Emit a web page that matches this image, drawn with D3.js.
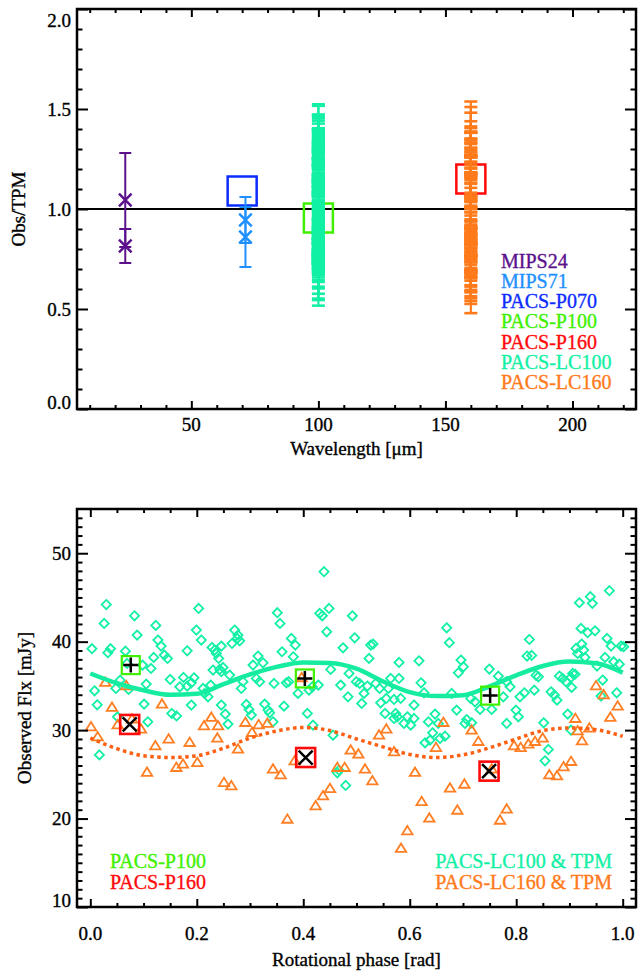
<!DOCTYPE html>
<html>
<head>
<meta charset="utf-8">
<script src="https://cdn.jsdelivr.net/npm/d3@7"></script>
<style>
  html, body { margin: 0; padding: 0; background: #fff; }
  svg { display: block; }
  text { font-family: "Liberation Serif", "Times New Roman", serif; stroke-width: 0.35px; paint-order: stroke; }
</style>
</head>
<body>
<svg id="chart" width="638" height="971"></svg>
<script>
// ---------------- Upper panel: Obs/TPM ratio against wavelength ----------------
const bandNames  = ["MIPS24", "MIPS71", "PACS-P070", "PACS-P100", "PACS-P160", "PACS-LC100", "PACS-LC160"];
const bandColors = ["#5b108c", "#1e90ff", "#0b2cff", "#40f000", "#ff0a0a", "#12f0a4", "#ff7a1a"];

const mips24Wave = 24,   mips24Ratio = [1.045, 0.815], mips24Err = [0.235, 0.085];
const mips71Wave = 71.3, mips71Ratio = [0.945, 0.86],  mips71Err = [0.115, 0.15];
const pacsBoxWave  = [70, 100, 160];
const pacsBoxRatio = [1.09, 0.955, 1.15];
const lc100Wave = 100, lc160Wave = 160;
const lc100RelErr = 0.19, lc160RelErr = 0.21;

const waveMajor  = [50, 100, 150, 200];
const waveMinor  = [10, 20, 30, 40, 60, 70, 80, 90, 110, 120, 130, 140, 160, 170, 180, 190, 210, 220];
const ratioMajor = [0.0, 0.5, 1.0, 1.5, 2.0];
const ratioMinor = [0.1, 0.2, 0.3, 0.4, 0.6, 0.7, 0.8, 0.9, 1.1, 1.2, 1.3, 1.4, 1.6, 1.7, 1.8, 1.9];

// ---------------- Lower panel: observed flux against rotational phase ----------------
const modelPhase = [0, 0.05, 0.10, 0.15, 0.20, 0.25, 0.30, 0.35, 0.40, 0.45, 0.50,
                    0.55, 0.60, 0.65, 0.70, 0.75, 0.80, 0.85, 0.90, 0.95, 1.00];
const tpm100 = [36.4, 35.3, 34.5, 34.0, 34.1, 35.2, 36.3, 37.15, 37.65, 37.6, 36.95,
                35.5, 34.3, 33.85, 33.95, 34.95, 36.2, 37.25, 37.75, 37.55, 36.5];
const tpm160 = [29.1, 27.9, 27.1, 26.9, 27.1, 27.95, 29.1, 29.9, 30.3, 29.95, 29.0,
                28.1, 27.25, 26.9, 27.2, 28.0, 29.0, 29.95, 30.25, 30.05, 29.3];

const lc100Phase = [
  0.030, 0.083, 0.026, 0.123, 0.088, 0.127, 0.133, 0.003, 0.038, 0.033, 0.066, 0.182, 0.119, 0.139, 0.145, 0.069,
  0.114, 0.098, 0.056, 0.150, 0.175, 0.168, 0.182, 0.008, 0.048, 0.072, 0.105, 0.013, 0.101, 0.153, 0.162, 0.051,
  0.108, 0.017,
  0.2035, 0.3513, 0.3563, 0.1992, 0.2085, 0.2712, 0.2774, 0.2762, 0.2806, 0.2662, 0.2461, 0.2286, 0.2336, 0.2367,
  0.2411, 0.3776, 0.3851, 0.3601, 0.3150, 0.3244, 0.3056, 0.3814, 0.2305, 0.2430, 0.2493, 0.2461, 0.2618, 0.1948,
  0.1898, 0.2117, 0.2261, 0.2868, 0.3119, 0.3181, 0.3451, 0.3682, 0.3726, 0.2837, 0.2148, 0.2211, 0.1898, 0.2461,
  0.2536, 0.2931, 0.2981, 0.3025, 0.3275, 0.3338, 0.3369, 0.3638, 0.2586, 0.3432, 0.3901,
  0.439, 0.4308, 0.4358, 0.4484, 0.4922, 0.444, 0.4966, 0.4747, 0.5266, 0.531, 0.5235, 0.5799, 0.4515, 0.486,
  0.4703, 0.4997, 0.506, 0.5204, 0.5141, 0.484, 0.5097, 0.536, 0.5435, 0.5598, 0.5642, 0.5799, 0.5705, 0.5454,
  0.556, 0.583, 0.5536, 0.5736, 0.5767, 0.5705, 0.5955, 0.5892, 0.6018, 0.608, 0.4077, 0.4183, 0.4559, 0.4283,
  0.417, 0.4108, 0.464, 0.4671, 0.4797,
  0.6694, 0.6744, 0.6174, 0.6963, 0.7007, 0.6913, 0.7495, 0.7664, 0.6212, 0.6268, 0.608, 0.6788, 0.6882, 0.7145,
  0.7226, 0.732, 0.7539, 0.7821, 0.7884, 0.7758, 0.8071, 0.7996, 0.804, 0.7821, 0.6475, 0.635, 0.6537, 0.643,
  0.6287, 0.6381, 0.6569, 0.6663, 0.707, 0.7038, 0.7163,
  0.975, 0.9392, 0.943, 0.9186, 0.9217, 0.9342, 0.948, 0.9706, 0.9781, 0.9969, 1.0019, 0.8247, 0.9123, 0.923,
  0.9267, 0.9154, 0.9292, 0.8203, 0.829, 0.9668, 0.9831, 0.9937, 0.9518, 0.8372, 0.8416, 0.881, 0.8873, 0.8935,
  0.906, 0.9029, 0.9104, 0.9042, 0.834, 0.8153, 0.8654, 0.8716, 0.8766, 0.9624, 0.9593, 0.9887, 0.8967, 0.8516,
  0.9029, 0.8604, 0.8541
];
const lc100Flux = [
  44.2, 42.93, 42.06, 41.84, 40.74, 40.18, 39.5, 39.2, 39.2, 38.75, 38.93, 38.97, 38.22, 38.48, 38.1, 37.54,
  36.97, 37.35, 35.65, 35.73, 35.96, 34.9, 34.97, 34.45, 34.71, 34.6, 35.2, 32.86, 32.94, 31.88, 31.6, 31.5,
  30.94, 27.2,
  43.76, 43.27, 42.06, 41.31, 40.18, 41.31, 40.74, 40.37, 40.1, 39.8, 39.5, 39.35, 39.05, 38.67,
  38.1, 40.37, 39.61, 38.86, 38.37, 37.61, 37.35, 38.29, 36.79, 36.86, 37.09, 36.6, 36.22, 35.92,
  35.35, 34.71, 35.09, 35.47, 35.84, 35.47, 35.28, 35.35, 35.47, 34.71, 34.15, 33.77, 32.83, 32.83,
  31.81, 32.9, 32.34, 31.7, 32.94, 32.26, 31.96, 32.71, 30.68, 30.94, 34.15,
  47.91, 43.2, 42.93, 43.76, 42.93, 41.12, 40.44, 39.31, 39.61, 39.73, 38.11, 37.65, 36.86, 36.41,
  35.09, 35.47, 35.28, 34.98, 34.15, 33.77, 33.01, 35.28, 34.71, 34.71, 35.84, 35.84, 33.47, 33.09,
  33.58, 33.58, 31.88, 31.88, 31.51, 31.32, 31.51, 30.75, 30.56, 31.32, 31.88, 30.56, 29.43, 35.09,
  34.9, 34.52, 25.17, 25.47, 23.74,
  41.57, 39.88, 37.84, 37.92, 37.16, 36.48, 36.9, 36.1, 35.35, 34.22, 32.83, 34.15, 32.26, 33.58,
  33.2, 32.34, 32.34, 35.47, 34.9, 33.77, 33.77, 32.26, 31.51, 30.75, 31.81, 30.94, 30.75, 29.7,
  28.57, 28.87, 29.06, 29.32, 31.2, 30.75, 30.83,
  45.76, 45.08, 44.33, 44.4, 41.5, 41.01, 41.23, 40.37, 39.5, 39.5, 39.43, 40.25, 39.24, 39.73,
  39.05, 38.67, 38.22, 38.37, 38.44, 38.22, 37.73, 37.46, 37.24, 36.2, 36.03, 36.11, 35.84, 35.47,
  36.41, 35.96, 36.33, 34.83, 34.52, 34.22, 34.33, 33.96, 33.39, 35.66, 33.85, 34.22, 31.81, 30.83,
  30.0, 27.81, 26.53
];

const lc160Phase = [
  0.0282, 0.0677, 0.0407, 0.1347, 0.0013, 0.0138, 0.0514, 0.0783, 0.0952, 0.1222, 0.1472, 0.1866, 0.1616, 0.1741,
  0.1065,
  0.2273, 0.2136, 0.2399, 0.2386, 0.201, 0.2774, 0.2912, 0.3037, 0.3163, 0.3325, 0.3432, 0.3576, 0.2511, 0.2649,
  0.3701, 0.3839,
  0.397, 0.556, 0.5423, 0.4891, 0.5035, 0.5705, 0.516, 0.464, 0.4778, 0.5298, 0.4502, 0.4371, 0.4233, 0.5955,
  0.5836,
  0.6631, 0.7163, 0.7289, 0.6493, 0.6099, 0.6756, 0.7026, 0.6224, 0.6368, 0.6894, 0.7821, 0.7696, 0.7959, 0.8084,
  0.754,
  0.9499, 0.9643, 0.9906, 0.9768, 0.9111, 0.9154, 0.9374, 0.9236, 0.8497, 0.8353, 0.8228, 0.903, 0.889, 0.8622,
  0.8766
];
const lc160Flux = [
  35.47, 35.09, 32.64, 33.01, 30.45, 29.32, 30.68, 31.32, 30.19, 28.3, 29.06, 28.68, 25.85, 26.23,
  25.29,
  31.51, 30.56, 30.56, 29.17, 26.41, 27.92, 30.94, 29.81, 30.68, 30.83, 25.66, 25.02, 24.15, 23.78,
  20.0, 26.6,
  36.0, 30.19, 29.51, 27.81, 27.36, 27.62, 25.66, 25.85, 25.85, 24.34, 23.47, 22.65, 21.51, 18.69,
  16.7,
  30.94, 30.07, 28.79, 28.11, 25.29, 23.51, 23.96, 22.0, 20.12, 21.02, 21.14, 19.89, 28.3, 28.11,
  25.66,
  35.09, 34.07, 32.79, 31.51, 31.39, 30.0, 30.3, 28.87, 29.17, 28.79, 28.49, 26.53, 25.92, 25.02,
  24.91
];

const p100Phase = [0.076, 0.403, 0.751], p100Flux = [37.35, 35.84, 33.9];
const p160Phase = [0.074, 0.4045, 0.749], p160Flux = [30.64, 26.9, 25.36];

const phaseMajor = [0.0, 0.2, 0.4, 0.6, 0.8, 1.0];
const phaseMinor = [0.05, 0.1, 0.15, 0.25, 0.3, 0.35, 0.45, 0.5, 0.55, 0.65, 0.7, 0.75, 0.85, 0.9, 0.95];
const fluxMajor  = [10, 20, 30, 40, 50];
const fluxMinor  = d3.range(11, 55).filter(v => v % 10 !== 0);

// ---------------- helpers ----------------
const svg = d3.select("#chart");
svg.append("rect").attr("width", 638).attr("height", 971).attr("fill", "#fff");

const fmt1 = d3.format(".1f");

// linear interpolation of a model curve sampled on modelPhase
function modelAt(values) {
  return p => {
    const i = Math.max(0, Math.min(modelPhase.length - 2, d3.bisectRight(modelPhase, p) - 1));
    const t = (p - modelPhase[i]) / (modelPhase[i + 1] - modelPhase[i]);
    return values[i] + Math.max(0, Math.min(1, t)) * (values[i + 1] - values[i]);
  };
}

function drawFrame(g, x, y, xMajor, xMinor, yMajor, yMinor) {
  const [xl, xr] = x.range();
  const [yb, yt] = y.range();
  const xLen = 8, yLen = 11;
  const add = (gen, tx, ty) => g.append("g")
      .attr("transform", `translate(${tx},${ty})`)
      .call(gen)
      .call(s => {
        s.select(".domain").remove();
        s.selectAll(".tick line").attr("stroke", "#000").attr("stroke-width", 2);
      });
  add(d3.axisBottom(x).tickValues(xMajor).tickSize(-xLen).tickFormat(""), 0, yb);
  add(d3.axisBottom(x).tickValues(xMinor).tickSize(-xLen / 2).tickFormat(""), 0, yb);
  add(d3.axisTop(x).tickValues(xMajor).tickSize(-xLen).tickFormat(""), 0, yt);
  add(d3.axisTop(x).tickValues(xMinor).tickSize(-xLen / 2).tickFormat(""), 0, yt);
  add(d3.axisLeft(y).tickValues(yMajor).tickSize(-yLen).tickFormat(""), xl, 0);
  add(d3.axisLeft(y).tickValues(yMinor).tickSize(-yLen / 2).tickFormat(""), xl, 0);
  add(d3.axisRight(y).tickValues(yMajor).tickSize(-yLen).tickFormat(""), xr, 0);
  add(d3.axisRight(y).tickValues(yMinor).tickSize(-yLen / 2).tickFormat(""), xr, 0);
  g.append("rect")
    .attr("x", xl).attr("y", yt).attr("width", xr - xl).attr("height", yb - yt)
    .attr("fill", "none").attr("stroke", "#000").attr("stroke-width", 2.5);
}

function yLabels(g, y, values, format) {
  const [lo, hi] = y.domain();
  g.selectAll(null).data(values).join("text")
    .attr("x", 71)
    .attr("y", v => v === hi ? y(v) + 18 : (v === lo ? y(v) - 0.5 : y(v) + 6.5))
    .attr("text-anchor", "end")
    .attr("font-size", 19).attr("fill", "#000").attr("stroke", "#000")
    .text(format);
}

function xLabels(g, x, values, baseline, format) {
  g.selectAll(null).data(values).join("text")
    .attr("x", v => x(v)).attr("y", baseline)
    .attr("text-anchor", "middle")
    .attr("font-size", 19).attr("fill", "#000").attr("stroke", "#000")
    .text(format);
}

function errorBar(g, xc, yLo, yHi, color, capW, width, capWidth) {
  g.append("line").attr("x1", xc).attr("x2", xc).attr("y1", yLo).attr("y2", yHi)
    .attr("stroke", color).attr("stroke-width", width);
  [yLo, yHi].forEach(yy => g.append("line")
    .attr("x1", xc - capW / 2).attr("x2", xc + capW / 2).attr("y1", yy).attr("y2", yy)
    .attr("stroke", color).attr("stroke-width", capWidth));
}

function cross(g, cx, cy, s, color, w) {
  g.append("path").attr("d", `M${cx - s},${cy - s}L${cx + s},${cy + s}M${cx - s},${cy + s}L${cx + s},${cy - s}`)
    .attr("stroke", color).attr("stroke-width", w).attr("fill", "none");
}
function plus(g, cx, cy, s, color, w) {
  g.append("path").attr("d", `M${cx - s},${cy}L${cx + s},${cy}M${cx},${cy - s}L${cx},${cy + s}`)
    .attr("stroke", color).attr("stroke-width", w).attr("fill", "none");
}

function title(g, x, y, txt, rotate) {
  g.append("text")
    .attr("transform", `translate(${x},${y})` + (rotate ? " rotate(-90)" : ""))
    .attr("text-anchor", "middle").attr("font-size", 19)
    .attr("fill", "#000").attr("stroke", "#000").text(txt);
}

// ---------------- upper panel ----------------
const xw = d3.scaleLinear().domain([5, 225]).range([77, 636]);
const yr = d3.scaleLinear().domain([0, 2]).range([409, 9]);
const upper = svg.append("g");

// unity line
upper.append("line").attr("x1", xw.range()[0]).attr("x2", xw.range()[1])
  .attr("y1", yr(1)).attr("y2", yr(1)).attr("stroke", "#000").attr("stroke-width", 2);

// PACS photometer points (boxes)
const boxColors = [bandColors[2], bandColors[3], bandColors[4]];
pacsBoxWave.forEach((w, i) => {
  const s = 29;
  upper.append("rect").attr("x", xw(w) - s / 2).attr("y", yr(pacsBoxRatio[i]) - s / 2)
    .attr("width", s).attr("height", s).attr("fill", "none")
    .attr("stroke", boxColors[i]).attr("stroke-width", 2.5);
});

// MIPS points with error bars
[[mips24Wave, mips24Ratio, mips24Err, bandColors[0]],
 [mips71Wave, mips71Ratio, mips71Err, bandColors[1]]].forEach(([w, r, e, c]) => {
  r.forEach((v, i) => {
    errorBar(upper, xw(w), yr(v - e[i]), yr(v + e[i]), c, 12, 2, 2);
    cross(upper, xw(w), yr(v), 6.3, c, 2.5);
  });
});

// lightcurve ratios: observed flux divided by the TPM prediction at the same phase
const tpm100At = modelAt(tpm100), tpm160At = modelAt(tpm160);
const lc100Ratio = lc100Flux.map((f, i) => f / tpm100At(lc100Phase[i]));
const lc160Ratio = lc160Flux.map((f, i) => f / tpm160At(lc160Phase[i]));
[[lc100Wave, lc100Ratio, lc100RelErr, bandColors[5]],
 [lc160Wave, lc160Ratio, lc160RelErr, bandColors[6]]].forEach(([w, ratios, rel, c]) => {
  ratios.forEach(v => errorBar(upper, xw(w), yr(v * (1 - rel)), yr(v * (1 + rel)), c, 13, 2.2, 2.6));
});

drawFrame(upper, xw, yr, waveMajor, waveMinor, ratioMajor, ratioMinor);
yLabels(upper, yr, ratioMajor, fmt1);
xLabels(upper, xw, waveMajor, 431, d3.format("d"));

title(upper, d3.mean(xw.range()), 455, "Wavelength [\u03bcm]", false);
title(upper, 25, d3.mean(yr.range()), "Obs/TPM", true);

upper.selectAll(null).data(bandNames).join("text")
  .attr("x", 501).attr("y", (d, i) => 267.5 + i * 20.3)
  .attr("font-size", 20)
  .attr("fill", (d, i) => bandColors[i]).attr("stroke", (d, i) => bandColors[i])
  .text(d => d);

// ---------------- lower panel ----------------
const xp = d3.scaleLinear().domain([-0.025, 1.025]).range([77, 636]);
const yf = d3.scaleLinear().domain([10, 55]).range([907, 509]);
const lower = svg.append("g");

const diamondPath = r => `M0,${-r}L${r},0L0,${r}L${-r},0Z`;
const trianglePath = (hw, hh) => `M0,${-hh}L${hw},${hh}L${-hw},${hh}Z`;

lower.selectAll(null).data(lc100Phase).join("path")
  .attr("transform", (p, i) => `translate(${xp(p)},${yf(lc100Flux[i])})`)
  .attr("d", diamondPath(4.6))
  .attr("fill", "none").attr("stroke", bandColors[5]).attr("stroke-width", 1.8);

lower.selectAll(null).data(lc160Phase).join("path")
  .attr("transform", (p, i) => `translate(${xp(p)},${yf(lc160Flux[i])})`)
  .attr("d", trianglePath(5.2, 4.2))
  .attr("fill", "none").attr("stroke", "#ff7f24").attr("stroke-width", 1.8);

// TPM predictions
const modelLine = vals => d3.line()
  .x(p => xp(p)).y((p, i) => yf(vals[i]))
  .curve(d3.curveMonotoneX)(modelPhase);
lower.append("path").attr("d", modelLine(tpm100))
  .attr("fill", "none").attr("stroke", "#16eca0").attr("stroke-width", 4.5);
lower.append("path").attr("d", modelLine(tpm160))
  .attr("fill", "none").attr("stroke", "#ff5f10").attr("stroke-width", 3.5)
  .attr("stroke-dasharray", "3.5 3.5");

// PACS photometer epochs
p100Phase.forEach((p, i) => {
  const cx = xp(p), cy = yf(p100Flux[i]);
  lower.append("rect").attr("x", cx - 9).attr("y", cy - 9).attr("width", 18).attr("height", 18)
    .attr("fill", "none").attr("stroke", bandColors[3]).attr("stroke-width", 2.2);
  plus(lower, cx, cy, 7.5, "#000", 2.5);
});
p160Phase.forEach((p, i) => {
  const cx = xp(p), cy = yf(p160Flux[i]);
  lower.append("rect").attr("x", cx - 9.5).attr("y", cy - 9.5).attr("width", 19).attr("height", 19)
    .attr("fill", "none").attr("stroke", bandColors[4]).attr("stroke-width", 2.6);
  cross(lower, cx, cy, 7, "#000", 2.5);
});

drawFrame(lower, xp, yf, phaseMajor, phaseMinor, fluxMajor, fluxMinor);
yLabels(lower, yf, fluxMajor, d3.format("d"));
xLabels(lower, xp, phaseMajor, 940, fmt1);

title(lower, d3.mean(xp.range()), 965.5, "Rotational phase [rad]", false);
title(lower, 31, d3.mean(yf.range()), "Observed Flx [mJy]", true);

const lowerLegendLeft  = ["PACS-P100", "PACS-P160"];
const lowerLegendRight = ["PACS-LC100 & TPM", "PACS-LC160 & TPM"];
const leftColors = [bandColors[3], bandColors[4]], rightColors = [bandColors[5], bandColors[6]];
lower.selectAll(null).data(lowerLegendLeft).join("text")
  .attr("x", 110).attr("y", (d, i) => 868 + i * 20.8)
  .attr("font-size", 20).attr("fill", (d, i) => leftColors[i]).attr("stroke", (d, i) => leftColors[i])
  .text(d => d);
lower.selectAll(null).data(lowerLegendRight).join("text")
  .attr("x", 612).attr("y", (d, i) => 868 + i * 20.8).attr("text-anchor", "end")
  .attr("font-size", 20).attr("fill", (d, i) => rightColors[i]).attr("stroke", (d, i) => rightColors[i])
  .text(d => d);
</script>
</body>
</html>
